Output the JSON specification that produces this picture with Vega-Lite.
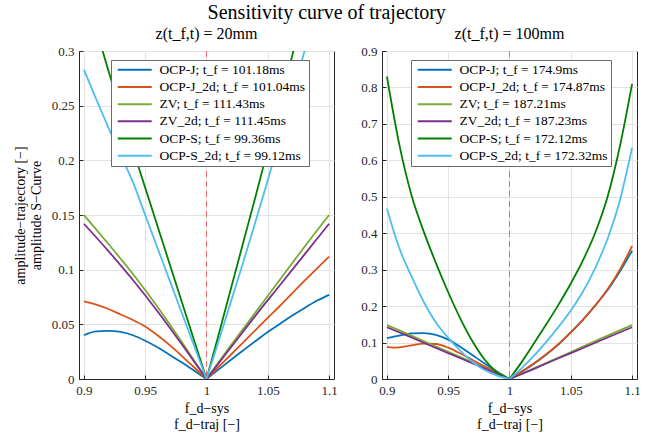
{
  "$schema": "https://vega.github.io/schema/vega-lite/v6.json",
  "padding": {"left": 12, "top": 2, "right": 5, "bottom": 2},
  "title": {"text": "Sensitivity curve of trajectory", "font": "Liberation Serif", "fontSize": 20, "fontWeight": "normal", "anchor": "middle", "color": "#000", "offset": 3},
  "datasets": {
    "L": [
      {"s":"J","h":0,"x":0.9,"y":0.040},{"s":"J","h":0,"x":0.91,"y":0.0435},{"s":"J","h":0,"x":0.92,"y":0.044},{"s":"J","h":0,"x":0.93,"y":0.043},{"s":"J","h":0,"x":0.94,"y":0.040},{"s":"J","h":0,"x":0.95,"y":0.035},{"s":"J","h":0,"x":0.96,"y":0.029},{"s":"J","h":0,"x":0.97,"y":0.022},{"s":"J","h":0,"x":0.98,"y":0.015},{"s":"J","h":0,"x":0.99,"y":0.0075},{"s":"J","h":0,"x":1.0,"y":0},
      {"s":"J","h":1,"x":1.0,"y":0},{"s":"J","h":1,"x":1.01,"y":0.0088},{"s":"J","h":1,"x":1.02,"y":0.0176},{"s":"J","h":1,"x":1.03,"y":0.0262},{"s":"J","h":1,"x":1.04,"y":0.0347},{"s":"J","h":1,"x":1.05,"y":0.043},{"s":"J","h":1,"x":1.06,"y":0.0505},{"s":"J","h":1,"x":1.07,"y":0.058},{"s":"J","h":1,"x":1.08,"y":0.065},{"s":"J","h":1,"x":1.09,"y":0.0715},{"s":"J","h":1,"x":1.1,"y":0.077},
      {"s":"J2","h":0,"x":0.9,"y":0.071},{"s":"J2","h":0,"x":0.91,"y":0.068},{"s":"J2","h":0,"x":0.92,"y":0.064},{"s":"J2","h":0,"x":0.93,"y":0.059},{"s":"J2","h":0,"x":0.94,"y":0.054},{"s":"J2","h":0,"x":0.95,"y":0.048},{"s":"J2","h":0,"x":0.96,"y":0.040},{"s":"J2","h":0,"x":0.97,"y":0.031},{"s":"J2","h":0,"x":0.98,"y":0.021},{"s":"J2","h":0,"x":0.99,"y":0.0105},{"s":"J2","h":0,"x":1.0,"y":0},
      {"s":"J2","h":1,"x":1.0,"y":0},{"s":"J2","h":1,"x":1.01,"y":0.0112},{"s":"J2","h":1,"x":1.02,"y":0.0224},{"s":"J2","h":1,"x":1.03,"y":0.0336},{"s":"J2","h":1,"x":1.04,"y":0.0448},{"s":"J2","h":1,"x":1.05,"y":0.056},{"s":"J2","h":1,"x":1.06,"y":0.067},{"s":"J2","h":1,"x":1.07,"y":0.0785},{"s":"J2","h":1,"x":1.08,"y":0.090},{"s":"J2","h":1,"x":1.09,"y":0.101},{"s":"J2","h":1,"x":1.1,"y":0.112},
      {"s":"ZV","h":0,"x":0.9,"y":0.150},{"s":"ZV","h":0,"x":0.92,"y":0.1235},{"s":"ZV","h":0,"x":0.94,"y":0.096},{"s":"ZV","h":0,"x":0.96,"y":0.066},{"s":"ZV","h":0,"x":0.98,"y":0.0335},{"s":"ZV","h":0,"x":1.0,"y":0},
      {"s":"ZV","h":1,"x":1.0,"y":0},{"s":"ZV","h":1,"x":1.02,"y":0.031},{"s":"ZV","h":1,"x":1.04,"y":0.061},{"s":"ZV","h":1,"x":1.06,"y":0.091},{"s":"ZV","h":1,"x":1.08,"y":0.121},{"s":"ZV","h":1,"x":1.1,"y":0.150},
      {"s":"ZV2","h":0,"x":0.9,"y":0.142},{"s":"ZV2","h":0,"x":0.92,"y":0.117},{"s":"ZV2","h":0,"x":0.94,"y":0.0905},{"s":"ZV2","h":0,"x":0.96,"y":0.062},{"s":"ZV2","h":0,"x":0.98,"y":0.0315},{"s":"ZV2","h":0,"x":1.0,"y":0},
      {"s":"ZV2","h":1,"x":1.0,"y":0},{"s":"ZV2","h":1,"x":1.02,"y":0.029},{"s":"ZV2","h":1,"x":1.04,"y":0.058},{"s":"ZV2","h":1,"x":1.06,"y":0.086},{"s":"ZV2","h":1,"x":1.08,"y":0.114},{"s":"ZV2","h":1,"x":1.1,"y":0.142},
      {"s":"S","h":0,"x":0.9,"y":0.36},{"s":"S","h":0,"x":0.91,"y":0.32},{"s":"S","h":0,"x":0.92,"y":0.282},{"s":"S","h":0,"x":0.93,"y":0.245},{"s":"S","h":0,"x":0.94,"y":0.21},{"s":"S","h":0,"x":0.95,"y":0.175},{"s":"S","h":0,"x":0.96,"y":0.14},{"s":"S","h":0,"x":0.97,"y":0.105},{"s":"S","h":0,"x":0.98,"y":0.07},{"s":"S","h":0,"x":0.99,"y":0.035},{"s":"S","h":0,"x":1.0,"y":0},
      {"s":"S","h":1,"x":1.0,"y":0},{"s":"S","h":1,"x":1.01,"y":0.041},{"s":"S","h":1,"x":1.02,"y":0.083},{"s":"S","h":1,"x":1.03,"y":0.125},{"s":"S","h":1,"x":1.04,"y":0.167},{"s":"S","h":1,"x":1.05,"y":0.21},{"s":"S","h":1,"x":1.06,"y":0.253},{"s":"S","h":1,"x":1.07,"y":0.296},{"s":"S","h":1,"x":1.08,"y":0.34},{"s":"S","h":1,"x":1.09,"y":0.385},{"s":"S","h":1,"x":1.1,"y":0.43},
      {"s":"S2","h":0,"x":0.9,"y":0.283},{"s":"S2","h":0,"x":0.91,"y":0.256},{"s":"S2","h":0,"x":0.92,"y":0.23},{"s":"S2","h":0,"x":0.93,"y":0.205},{"s":"S2","h":0,"x":0.94,"y":0.18},{"s":"S2","h":0,"x":0.95,"y":0.15},{"s":"S2","h":0,"x":0.96,"y":0.12},{"s":"S2","h":0,"x":0.97,"y":0.09},{"s":"S2","h":0,"x":0.98,"y":0.06},{"s":"S2","h":0,"x":0.99,"y":0.03},{"s":"S2","h":0,"x":1.0,"y":0},
      {"s":"S2","h":1,"x":1.0,"y":0},{"s":"S2","h":1,"x":1.01,"y":0.035},{"s":"S2","h":1,"x":1.02,"y":0.071},{"s":"S2","h":1,"x":1.03,"y":0.107},{"s":"S2","h":1,"x":1.04,"y":0.144},{"s":"S2","h":1,"x":1.05,"y":0.182},{"s":"S2","h":1,"x":1.06,"y":0.22},{"s":"S2","h":1,"x":1.07,"y":0.26},{"s":"S2","h":1,"x":1.08,"y":0.30},{"s":"S2","h":1,"x":1.09,"y":0.34},{"s":"S2","h":1,"x":1.1,"y":0.38}
    ],
    "R": [
      {"s":"J","h":0,"x":0.9,"y":0.112},{"s":"J","h":0,"x":0.91,"y":0.119},{"s":"J","h":0,"x":0.92,"y":0.125},{"s":"J","h":0,"x":0.93,"y":0.126},{"s":"J","h":0,"x":0.94,"y":0.121},{"s":"J","h":0,"x":0.95,"y":0.108},{"s":"J","h":0,"x":0.96,"y":0.088},{"s":"J","h":0,"x":0.97,"y":0.065},{"s":"J","h":0,"x":0.98,"y":0.042},{"s":"J","h":0,"x":0.99,"y":0.02},{"s":"J","h":0,"x":1.0,"y":0},
      {"s":"J","h":1,"x":1.0,"y":0},{"s":"J","h":1,"x":1.01,"y":0.02},{"s":"J","h":1,"x":1.02,"y":0.042},{"s":"J","h":1,"x":1.03,"y":0.067},{"s":"J","h":1,"x":1.04,"y":0.095},{"s":"J","h":1,"x":1.05,"y":0.128},{"s":"J","h":1,"x":1.06,"y":0.163},{"s":"J","h":1,"x":1.07,"y":0.202},{"s":"J","h":1,"x":1.08,"y":0.244},{"s":"J","h":1,"x":1.09,"y":0.295},{"s":"J","h":1,"x":1.1,"y":0.352},
      {"s":"J2","h":0,"x":0.9,"y":0.088},{"s":"J2","h":0,"x":0.905,"y":0.086},{"s":"J2","h":0,"x":0.91,"y":0.087},{"s":"J2","h":0,"x":0.92,"y":0.092},{"s":"J2","h":0,"x":0.93,"y":0.097},{"s":"J2","h":0,"x":0.94,"y":0.096},{"s":"J2","h":0,"x":0.95,"y":0.086},{"s":"J2","h":0,"x":0.96,"y":0.070},{"s":"J2","h":0,"x":0.97,"y":0.052},{"s":"J2","h":0,"x":0.98,"y":0.034},{"s":"J2","h":0,"x":0.99,"y":0.017},{"s":"J2","h":0,"x":1.0,"y":0},
      {"s":"J2","h":1,"x":1.0,"y":0},{"s":"J2","h":1,"x":1.01,"y":0.021},{"s":"J2","h":1,"x":1.02,"y":0.043},{"s":"J2","h":1,"x":1.03,"y":0.068},{"s":"J2","h":1,"x":1.04,"y":0.096},{"s":"J2","h":1,"x":1.05,"y":0.128},{"s":"J2","h":1,"x":1.06,"y":0.163},{"s":"J2","h":1,"x":1.07,"y":0.202},{"s":"J2","h":1,"x":1.08,"y":0.246},{"s":"J2","h":1,"x":1.09,"y":0.300},{"s":"J2","h":1,"x":1.1,"y":0.365},
      {"s":"ZV","h":0,"x":0.9,"y":0.148},{"s":"ZV","h":0,"x":0.92,"y":0.119},{"s":"ZV","h":0,"x":0.94,"y":0.089},{"s":"ZV","h":0,"x":0.96,"y":0.06},{"s":"ZV","h":0,"x":0.98,"y":0.03},{"s":"ZV","h":0,"x":1.0,"y":0},
      {"s":"ZV","h":1,"x":1.0,"y":0},{"s":"ZV","h":1,"x":1.02,"y":0.029},{"s":"ZV","h":1,"x":1.04,"y":0.059},{"s":"ZV","h":1,"x":1.06,"y":0.089},{"s":"ZV","h":1,"x":1.08,"y":0.119},{"s":"ZV","h":1,"x":1.1,"y":0.148},
      {"s":"ZV2","h":0,"x":0.9,"y":0.142},{"s":"ZV2","h":0,"x":0.92,"y":0.114},{"s":"ZV2","h":0,"x":0.94,"y":0.085},{"s":"ZV2","h":0,"x":0.96,"y":0.057},{"s":"ZV2","h":0,"x":0.98,"y":0.0285},{"s":"ZV2","h":0,"x":1.0,"y":0},
      {"s":"ZV2","h":1,"x":1.0,"y":0},{"s":"ZV2","h":1,"x":1.02,"y":0.028},{"s":"ZV2","h":1,"x":1.04,"y":0.057},{"s":"ZV2","h":1,"x":1.06,"y":0.085},{"s":"ZV2","h":1,"x":1.08,"y":0.114},{"s":"ZV2","h":1,"x":1.1,"y":0.142},
      {"s":"S","h":0,"x":0.9,"y":0.83},{"s":"S","h":0,"x":0.91,"y":0.645},{"s":"S","h":0,"x":0.92,"y":0.505},{"s":"S","h":0,"x":0.93,"y":0.405},{"s":"S","h":0,"x":0.94,"y":0.318},{"s":"S","h":0,"x":0.95,"y":0.238},{"s":"S","h":0,"x":0.96,"y":0.165},{"s":"S","h":0,"x":0.97,"y":0.102},{"s":"S","h":0,"x":0.98,"y":0.052},{"s":"S","h":0,"x":0.99,"y":0.018},{"s":"S","h":0,"x":1.0,"y":0},
      {"s":"S","h":1,"x":1.0,"y":0},{"s":"S","h":1,"x":1.01,"y":0.047},{"s":"S","h":1,"x":1.02,"y":0.098},{"s":"S","h":1,"x":1.03,"y":0.15},{"s":"S","h":1,"x":1.04,"y":0.204},{"s":"S","h":1,"x":1.05,"y":0.262},{"s":"S","h":1,"x":1.06,"y":0.326},{"s":"S","h":1,"x":1.07,"y":0.402},{"s":"S","h":1,"x":1.08,"y":0.5},{"s":"S","h":1,"x":1.09,"y":0.638},{"s":"S","h":1,"x":1.1,"y":0.81},
      {"s":"S2","h":0,"x":0.9,"y":0.468},{"s":"S2","h":0,"x":0.91,"y":0.36},{"s":"S2","h":0,"x":0.92,"y":0.282},{"s":"S2","h":0,"x":0.93,"y":0.212},{"s":"S2","h":0,"x":0.94,"y":0.155},{"s":"S2","h":0,"x":0.95,"y":0.113},{"s":"S2","h":0,"x":0.96,"y":0.077},{"s":"S2","h":0,"x":0.97,"y":0.046},{"s":"S2","h":0,"x":0.98,"y":0.024},{"s":"S2","h":0,"x":0.99,"y":0.009},{"s":"S2","h":0,"x":1.0,"y":0},
      {"s":"S2","h":1,"x":1.0,"y":0},{"s":"S2","h":1,"x":1.01,"y":0.03},{"s":"S2","h":1,"x":1.02,"y":0.064},{"s":"S2","h":1,"x":1.03,"y":0.102},{"s":"S2","h":1,"x":1.04,"y":0.143},{"s":"S2","h":1,"x":1.05,"y":0.188},{"s":"S2","h":1,"x":1.06,"y":0.24},{"s":"S2","h":1,"x":1.07,"y":0.305},{"s":"S2","h":1,"x":1.08,"y":0.385},{"s":"S2","h":1,"x":1.09,"y":0.49},{"s":"S2","h":1,"x":1.1,"y":0.635}
    ]
  },
  "spacing": 22,
  "hconcat": [
    {
      "width": 255, "height": 328,
      "title": {"text": "z(t_f,t) = 20mm", "font": "Liberation Serif", "fontSize": 16, "fontWeight": "normal", "color": "#000", "offset": 3},
      "encoding": {
        "x": {"field": "x", "type": "quantitative", "scale": {"domain": [0.896, 1.104], "nice": false, "zero": false},
              "axis": {"values": [0.9, 0.95, 1, 1.05, 1.1], "format": "~g", "title": ["f_d−sys", "f_d−traj    [−]"]}}
      },
      "layer": [
        {"data": {"values": [{"x": 1}]}, "mark": {"type": "rule", "color": "#f26d6d", "strokeDash": [6, 4], "strokeWidth": 1}, "encoding": {}},
        {"data": {"name": "L"},
         "mark": {"type": "line", "interpolate": "monotone", "clip": true, "strokeWidth": 1.8},
         "encoding": {
           "y": {"field": "y", "type": "quantitative", "scale": {"domain": [0, 0.3], "nice": false},
                 "axis": {"values": [0, 0.05, 0.1, 0.15, 0.2, 0.25, 0.3], "format": "~g", "title": ["amplitude−trajectory    [−]", "amplitude S−Curve"]}},
           "color": {"field": "s", "type": "nominal",
                     "scale": {"domain": ["J", "J2", "ZV", "ZV2", "S", "S2"], "range": ["#0072BD", "#D95319", "#77AC30", "#7E2F8E", "#008000", "#4DBEEE"]},
                     "legend": {"orient": "none", "legendX": 32, "legendY": 9, "title": null,
                                "labelExpr": "{'J':'OCP-J; t_f = 101.18ms','J2':'OCP-J_2d; t_f = 101.04ms','ZV':'ZV; t_f = 111.43ms','ZV2':'ZV_2d; t_f = 111.45ms','S':'OCP-S; t_f = 99.36ms','S2':'OCP-S_2d; t_f = 99.12ms'}[datum.label]"}},
           "detail": {"field": "h"}
         }}
      ]
    },
    {
      "width": 255, "height": 328,
      "title": {"text": "z(t_f,t) = 100mm", "font": "Liberation Serif", "fontSize": 16, "fontWeight": "normal", "color": "#000", "offset": 3},
      "encoding": {
        "x": {"field": "x", "type": "quantitative", "scale": {"domain": [0.896, 1.104], "nice": false, "zero": false},
              "axis": {"values": [0.9, 0.95, 1, 1.05, 1.1], "format": "~g", "title": ["f_d−sys", "f_d−traj    [−]"]}}
      },
      "layer": [
        {"data": {"values": [{"x": 1}]}, "mark": {"type": "rule", "color": "#f26d6d", "strokeDash": [6, 4], "strokeWidth": 1}, "encoding": {}},
        {"data": {"name": "R"},
         "mark": {"type": "line", "interpolate": "monotone", "clip": true, "strokeWidth": 1.8},
         "encoding": {
           "y": {"field": "y", "type": "quantitative", "scale": {"domain": [0, 0.9], "nice": false},
                 "axis": {"values": [0, 0.1, 0.2, 0.3, 0.4, 0.5, 0.6, 0.7, 0.8, 0.9], "format": "~g", "title": null}},
           "color": {"field": "s", "type": "nominal",
                     "scale": {"domain": ["J", "J2", "ZV", "ZV2", "S", "S2"], "range": ["#0072BD", "#D95319", "#77AC30", "#7E2F8E", "#008000", "#4DBEEE"]},
                     "legend": {"orient": "none", "legendX": 29, "legendY": 9, "title": null,
                                "labelExpr": "{'J':'OCP-J; t_f = 174.9ms','J2':'OCP-J_2d; t_f = 174.87ms','ZV':'ZV; t_f = 187.21ms','ZV2':'ZV_2d; t_f = 187.23ms','S':'OCP-S; t_f = 172.12ms','S2':'OCP-S_2d; t_f = 172.32ms'}[datum.label]"}},
           "detail": {"field": "h"}
         }}
      ]
    }
  ],
  "resolve": {"scale": {"color": "independent", "y": "independent", "x": "independent"}, "legend": {"color": "independent"}},
  "config": {
    "font": "Liberation Serif",
    "view": {"stroke": "#262626", "strokeWidth": 1},
    "axis": {"labelFont": "Liberation Serif", "labelFontSize": 13, "labelColor": "#262626", "titleFont": "Liberation Serif", "titleFontSize": 14, "titleFontWeight": "normal", "titleColor": "#000",
             "domainColor": "#262626", "tickColor": "#262626", "gridColor": "#e2e2e2", "grid": true, "tickSize": -4, "labelPadding": 9},
    "axisY": {"titlePadding": 8},
    "legend": {"fillColor": "white", "strokeColor": "#6b6b6b", "padding": 3, "symbolType": "M-3.4,0L3.4,0", "symbolStrokeWidth": 2, "symbolSize": 100, "symbolOffset": 14, "labelOffset": 18,
               "labelFont": "Liberation Serif", "labelFontSize": 13.5, "labelColor": "#000", "labelLimit": 300, "rowPadding": 2.2, "cornerRadius": 0}
  }
}
